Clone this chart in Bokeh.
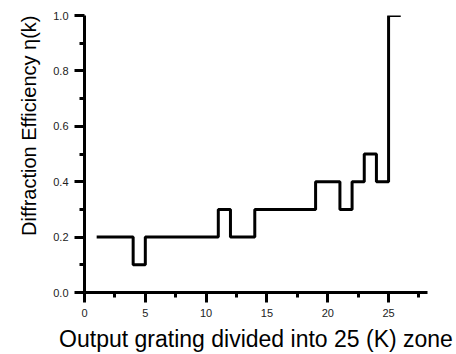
from bokeh.plotting import figure
from bokeh.models import Range1d, FixedTicker, Title, CustomJSTickFormatter
from bokeh.embed import file_html
from bokeh.resources import INLINE

# Data: zone index k and diffraction efficiency eta(k) (step, constant over [k, k+1])
zones = [1, 2, 3, 4, 5, 6, 7, 8, 9, 10, 11, 12, 13, 14, 15, 16, 17, 18, 19, 20, 21, 22, 23, 24, 25]
eta = [0.2, 0.2, 0.2, 0.1, 0.2, 0.2, 0.2, 0.2, 0.2, 0.2, 0.3, 0.2, 0.2, 0.3, 0.3, 0.3, 0.3, 0.3,
       0.4, 0.4, 0.3, 0.4, 0.5, 0.4, 1.0]
x_ticks = [0, 5, 10, 15, 20, 25]
x_minor = [2.5, 7.5, 12.5, 17.5, 22.5, 27.5]
y_ticks = [0.0, 0.2, 0.4, 0.6, 0.8, 1.0]
y_minor = [0.1, 0.3, 0.5, 0.7, 0.9]

FONT = "Liberation Sans"

p = figure(frame_width=343, frame_height=277, min_border_left=84, min_border_right=29,
           min_border_top=15, min_border_bottom=10,
           output_backend="svg", toolbar_location=None,
           x_range=Range1d(0, 28.2), y_range=Range1d(0, 1.0))
p.outline_line_color = None
p.xgrid.visible = False
p.ygrid.visible = False

xs = zones + [zones[-1] + 1]
ys = eta + [eta[-1]]
p.step(xs, ys, mode="after", line_color="black", line_width=3)

for ax in (p.xaxis[0], p.yaxis[0]):
    ax.axis_line_width = 3
    ax.axis_line_color = "black"
    ax.major_tick_line_width = 3
    ax.minor_tick_line_width = 3
    ax.major_tick_line_color = "black"
    ax.minor_tick_line_color = "black"
    ax.major_tick_out = 10
    ax.major_tick_in = 0
    ax.minor_tick_out = 5
    ax.minor_tick_in = 0
    ax.major_label_text_font = FONT
    ax.major_label_text_font_size = "11px"
    ax.major_label_text_color = "#222222"
    ax.axis_label_text_font = FONT
    ax.axis_label_text_font_style = "normal"
    ax.axis_label_text_color = "black"

p.xaxis.ticker = FixedTicker(ticks=x_ticks, minor_ticks=x_minor)
p.yaxis.ticker = FixedTicker(ticks=y_ticks, minor_ticks=y_minor)
p.yaxis.formatter = CustomJSTickFormatter(code="return tick.toFixed(1);")
p.xaxis.major_label_standoff = 6
p.yaxis.major_label_standoff = 6

p.xaxis.axis_label = "Output grating divided into 25 (K) zone"
p.xaxis.axis_label_text_font_size = "23px"
p.xaxis.axis_label_standoff = 6

ytitle = Title(text="Diffraction Efficiency \u03b7(k)", align="right", offset=0,
               text_font=FONT, text_font_size="20px", text_font_style="normal",
               text_color="black", standoff=21)
p.add_layout(ytitle, "left")

open("out.html", "w").write(file_html(p, INLINE))
